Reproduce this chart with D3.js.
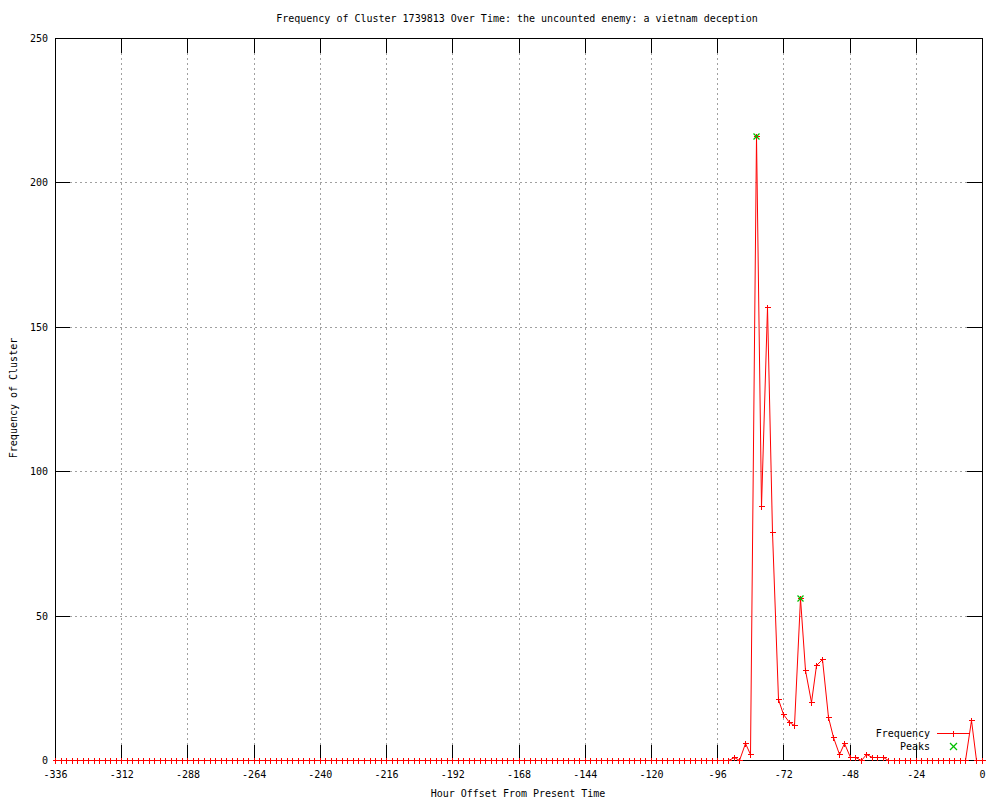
<!DOCTYPE html>
<html>
<head>
<meta charset="utf-8">
<script src="https://cdn.jsdelivr.net/npm/d3@7"></script>
<style>
  body { margin: 0; background: #fff; }
  text { font-family: "DejaVu Sans Mono", "Liberation Mono", monospace; font-size: 10px; fill: #000; }
  .grid line { stroke: #a0a0a0; stroke-dasharray: 2,3; shape-rendering: crispEdges; }
</style>
</head>
<body>
<svg width="1000" height="800"></svg>
<script>
// hours sampled every 2 hours from -336 to 0
const hours = d3.range(-336, 1, 2);
// non-zero counts, everything else is 0
const nonZeroHours = [-90, -86, -84, -82, -80, -78, -76, -74, -72, -70, -68, -66, -64, -62, -60, -58, -56, -54, -52, -50, -48, -46, -42, -40, -38, -36, -4];
const nonZeroCounts = [1, 6, 2, 216, 88, 157, 79, 21, 16, 13, 12, 56, 31, 20, 33, 35, 15, 8, 2, 6, 1, 1, 2, 1, 1, 1, 14];
const peakHours = [-82, -66];
const peakCounts = [216, 56];
const xTicks = [-336, -312, -288, -264, -240, -216, -192, -168, -144, -120, -96, -72, -48, -24, 0];
const yTicks = [0, 50, 100, 150, 200, 250];

const title = 'Frequency of Cluster 1739813 Over Time: the uncounted enemy: a vietnam deception';
const xAxisLabel = 'Hour Offset From Present Time';
const yAxisLabel = 'Frequency of Cluster';

const counts = hours.map(h => {
  const i = nonZeroHours.indexOf(h);
  return i < 0 ? 0 : nonZeroCounts[i];
});
const data = hours.map((h, i) => ({ hour: h, count: counts[i] }));
const peaks = peakHours.map((h, i) => ({ hour: h, count: peakCounts[i] }));

const svg = d3.select('svg');
const plotLeft = 55, plotRight = 982, plotTop = 38, plotBottom = 760;
const tickLen = 15;

const x = d3.scaleLinear().domain([-336, 0]).range([plotLeft, plotRight]);
const y = d3.scaleLinear().domain([0, 250]).range([plotBottom, plotTop]);
const px = v => Math.round(v) + 0.5;

// grid
const grid = svg.append('g').attr('class', 'grid');
grid.selectAll('.gx').data(xTicks.slice(1, -1)).enter().append('line')
  .attr('x1', d => px(x(d))).attr('x2', d => px(x(d)))
  .attr('y1', plotTop).attr('y2', plotBottom);
grid.selectAll('.gy').data(yTicks.slice(1, -1)).enter().append('line')
  .attr('x1', plotLeft).attr('x2', plotRight)
  .attr('y1', d => px(y(d))).attr('y2', d => px(y(d)));

// tick labels through d3 axes
svg.append('g')
  .call(d3.axisBottom(x).tickValues(xTicks).tickSize(0).tickPadding(0).tickFormat(d3.format('d')))
  .call(g => { g.select('.domain').remove(); g.selectAll('.tick line').remove(); })
  .call(g => g.selectAll('.tick text').attr('y', 778).attr('dy', null)
    .style('font-family', '"DejaVu Sans Mono", monospace').style('font-size', '10px')
    .text(d => String(d)));

svg.append('g')
  .call(d3.axisLeft(y).tickValues(yTicks).tickSize(0).tickPadding(0))
  .call(g => { g.select('.domain').remove(); g.selectAll('.tick line').remove(); })
  .call(g => g.selectAll('.tick text').attr('x', 48).attr('dy', '0.35em')
    .style('font-family', '"DejaVu Sans Mono", monospace').style('font-size', '10px'));

// mirrored ticks
const ticks = svg.append('g').attr('stroke', '#000').attr('shape-rendering', 'crispEdges');
xTicks.slice(1, -1).forEach(d => {
  ticks.append('line').attr('x1', px(x(d))).attr('x2', px(x(d))).attr('y1', plotBottom).attr('y2', plotBottom - tickLen);
  ticks.append('line').attr('x1', px(x(d))).attr('x2', px(x(d))).attr('y1', plotTop).attr('y2', plotTop + tickLen);
});
yTicks.slice(1, -1).forEach(d => {
  ticks.append('line').attr('y1', px(y(d))).attr('y2', px(y(d))).attr('x1', plotLeft).attr('x2', plotLeft + tickLen);
  ticks.append('line').attr('y1', px(y(d))).attr('y2', px(y(d))).attr('x1', plotRight).attr('x2', plotRight - tickLen);
});

// data line
const line = d3.line().x(d => px(x(d.hour))).y(d => px(y(d.count)));
svg.append('path').datum(data)
  .attr('d', line)
  .attr('fill', 'none')
  .attr('stroke', '#ff0000')
  .attr('stroke-width', 1);

// frame
svg.append('rect')
  .attr('x', px(plotLeft)).attr('y', px(plotTop))
  .attr('width', plotRight - plotLeft).attr('height', plotBottom - plotTop)
  .attr('fill', 'none').attr('stroke', '#000').attr('shape-rendering', 'crispEdges');

// markers
const plus = (g, cx, cy, s) => {
  g.append('line').attr('x1', cx - s).attr('x2', cx + s).attr('y1', cy).attr('y2', cy);
  g.append('line').attr('x1', cx).attr('x2', cx).attr('y1', cy - s).attr('y2', cy + s);
};
const cross = (g, cx, cy, s) => {
  g.append('line').attr('x1', cx - s).attr('x2', cx + s).attr('y1', cy - s).attr('y2', cy + s);
  g.append('line').attr('x1', cx - s).attr('x2', cx + s).attr('y1', cy + s).attr('y2', cy - s);
};
const marks = svg.append('g').attr('stroke', '#ff0000').attr('shape-rendering', 'crispEdges');
data.forEach(d => plus(marks, px(x(d.hour)), px(y(d.count)), 3));

const peakMarks = svg.append('g').attr('stroke', '#00c000').attr('stroke-width', 1.2);
peaks.forEach(d => cross(peakMarks, px(x(d.hour)), px(y(d.count)), 3));

// legend
svg.append('text').attr('x', 930).attr('y', 737).attr('text-anchor', 'end').text('Frequency');
svg.append('text').attr('x', 930).attr('y', 750).attr('text-anchor', 'end').text('Peaks');
svg.append('line').attr('x1', 937).attr('x2', 970).attr('y1', 733.5).attr('y2', 733.5)
  .attr('stroke', '#ff0000').attr('shape-rendering', 'crispEdges');
plus(svg.append('g').attr('stroke', '#ff0000').attr('shape-rendering', 'crispEdges'), 953.5, 733.5, 3);
cross(svg.append('g').attr('stroke', '#00c000').attr('stroke-width', 1.2), 953.5, 746.5, 3.5);

// titles
svg.append('text').attr('x', 517).attr('y', 22).attr('text-anchor', 'middle').text(title);
svg.append('text').attr('x', 518).attr('y', 797).attr('text-anchor', 'middle').text(xAxisLabel);
svg.append('text').attr('transform', 'translate(17,398) rotate(-90)').attr('text-anchor', 'middle').text(yAxisLabel);
</script>
</body>
</html>
